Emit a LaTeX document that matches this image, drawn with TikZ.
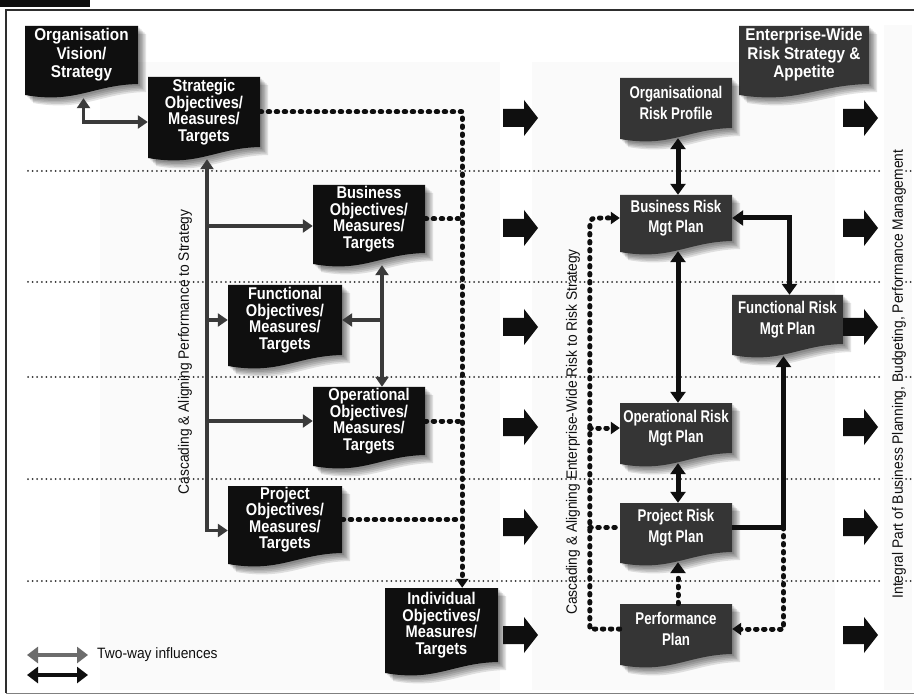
\documentclass[tikz,border=0pt]{standalone}
\usepackage{fontspec}
\setmainfont{Liberation Sans}[FakeStretch=0.92]
\newfontfamily\capfont{Liberation Sans}[FakeStretch=0.92]
\newfontfamily\headfont{Liberation Sans}[FakeStretch=0.9]
\newfontfamily\objfont{Liberation Sans}[FakeStretch=0.86]
\newfontfamily\riskfont{Liberation Sans}[FakeStretch=0.78]
\usetikzlibrary{arrows.meta,calc}

\definecolor{ink}{HTML}{0F0F0F}
\definecolor{riskbox}{HTML}{353535}
\definecolor{lconn}{HTML}{3A3A3A}
\definecolor{sepcol}{HTML}{2E2E2E}
\definecolor{panel}{HTML}{FAFAFA}

\pgfdeclarelayer{paper}
\pgfdeclarelayer{panels}
\pgfdeclarelayer{shapes}
\pgfsetlayers{paper,panels,shapes,main}

\tikzset{
  lt/.tip={Triangle[length=10pt,width=13pt]},
  rt/.tip={Triangle[length=11pt,width=15pt]},
  dt/.tip={Triangle[length=9pt,width=12pt]},
  gt/.tip={Triangle[length=11pt,width=16pt]},
  doctext/.style={text=white, align=center, inner sep=0pt},
  objtext/.style={font=\objfont\bfseries\fontsize{17}{16.5}\selectfont},
  headtext/.style={font=\headfont\bfseries\fontsize{17}{18.5}\selectfont},
  risktext/.style={font=\riskfont\bfseries\fontsize{17}{20.5}\selectfont},
  lconnector/.style={draw=lconn, line width=3.5pt},
  rconnector/.style={draw=ink, line width=5pt},
  dotconn/.style={draw=ink, line width=5pt, line cap=round, dash pattern=on 1.5pt off 6.5pt},
  separator/.style={draw=sepcol, line width=2pt, line cap=round, dash pattern=on 0pt off 4.6pt},
  sidetext/.style={rotate=90, inner sep=0pt, text=ink, font=\capfont\fontsize{15}{15}\selectfont},
  legendtext/.style={inner sep=0pt, anchor=west, text=ink, font=\capfont\fontsize{15}{15}\selectfont},
  legarrow/.style={line width=4pt, gt-gt},
  blockarrow/.pic={\fill[ink] (0,-9) -- (21,-9) -- (21,-18) -- (35,0) -- (21,18) -- (21,9) -- (0,9) -- cycle;}
}

% outline of a document-shaped box: left, top, right, bottom of right edge
\newcommand\docpath[4]{(#1,#2) -- (#3,#2) -- (#3,#4)
  .. controls ({#3-0.4*(#3-#1)},{#4+1}) and ({#1+0.45*(#3-#1)},{#4+20}) .. (#1,{#4+11}) -- cycle}

% document-shaped box: name, left, top, right, bottom of right edge, fill, text style, text
\newcommand\docbox[8]{%
  \node[doctext, #7, minimum width={(#4-#2)*1pt}, minimum height={(#5-#3)*1pt}]
    (#1) at ({(#2+#4)/2},{(#3+#5)/2}) {#8};
  \begin{pgfonlayer}{shapes}
    \foreach \s in {2,3.5,5,6.5,8} {
      \fill[black, opacity=0.11, shift={(\s,\s)}] \docpath{#2}{#3}{#4}{#5};
    }
    \fill[#6] \docpath{#2}{#3}{#4}{#5};
  \end{pgfonlayer}
}

\begin{document}
\begin{tikzpicture}[x=1pt,y=-1pt]
\useasboundingbox (0,0) rectangle (914,695);
\begin{pgfonlayer}{paper}
  \fill[white] (0,0) rectangle (914,695);
\end{pgfonlayer}

% frame and figure tag
\fill[ink] (0,0) rectangle (90,7);
\draw[sepcol, line width=2.5pt] (914,10) -- (6,10) -- (6,693);
\draw[gray, line width=1pt] (6,693) -- (914,693);

% light column panels and row separators
\begin{pgfonlayer}{panels}
  \fill[panel] (100,62) rectangle (500,690);
  \fill[panel] (532,62) rectangle (835,690);
  \fill[panel] (884,25) rectangle (912,690);
  \foreach \y in {171,282,377,479,581} {
    \draw[separator] (28,\y) -- (880,\y);
    \draw[separator] (906,\y) -- (914,\y);
  }
\end{pgfonlayer}

% objectives column
\docbox{org}{25}{26}{138}{84}{ink}{headtext}{Organisation\\Vision/\\Strategy}
\docbox{strat}{148}{77}{260}{147}{ink}{objtext}{Strategic\\Objectives/\\Measures/\\Targets}
\docbox{bus}{313}{185}{425}{253}{ink}{objtext}{Business\\Objectives/\\Measures/\\Targets}
\docbox{func}{228}{285}{342}{355}{ink}{objtext}{Functional\\Objectives/\\Measures/\\Targets}
\docbox{oper}{313}{387}{425}{455}{ink}{objtext}{Operational\\Objectives/\\Measures/\\Targets}
\docbox{proj}{228}{486}{342}{553}{ink}{objtext}{Project\\Objectives/\\Measures/\\Targets}
\docbox{indiv}{385}{588}{498}{662}{ink}{objtext}{Individual\\Objectives/\\Measures/\\Targets}

% risk column
\docbox{ews}{739}{26}{869}{84}{riskbox}{headtext}{Enterprise-Wide\\Risk Strategy \&\\Appetite}
\docbox{orp}{620}{78}{732}{128}{riskbox}{risktext}{Organisational\\Risk Profile}
\docbox{brm}{620}{195}{732}{241}{riskbox}{risktext}{Business Risk\\Mgt Plan}
\docbox{frm}{732}{295}{843}{344}{riskbox}{risktext}{Functional Risk\\Mgt Plan}
\docbox{orm}{620}{403}{732}{453}{riskbox}{risktext}{Operational Risk\\Mgt Plan}
\docbox{prm}{620}{503}{732}{552}{riskbox}{risktext}{Project Risk\\Mgt Plan}
\docbox{perf}{620}{604}{732}{654}{riskbox}{risktext}{Performance\\Plan}

% rotated column captions
\node[sidetext] (capA) at (185,352) {Cascading \& Aligning Performance to Strategy};
\node[sidetext] (capB) at (573,432) {Cascading \& Aligning Enterprise-Wide Risk to Risk Strategy};
\node[sidetext] (capC) at (899,374) {Integral Part of Business Planning, Budgeting, Performance Management};

% block arrows between the columns
\foreach \y in {118,228,327,427,527,635} {
  \pic at (503,\y) {blockarrow};
  \pic at (843,\y) {blockarrow};
}

% objectives: solid two-way links
\draw[lconnector, lt-lt] ($(org.south)+(2,14)$) |- ($(strat.west)+(0,10)$);
\coordinate (sp) at ($(strat.south)+(3,12)$);
\coordinate (projin) at ($(proj.west)+(0,11)$);
\coordinate (busin) at ($(bus.west)+(0,7)$);
\draw[lconnector, lt-lt] (sp) |- (projin);
\draw[lconnector, -lt] (sp |- busin) -- (busin);
\draw[lconnector, -lt] (sp |- func.west) -- (func.west);
\draw[lconnector, -lt] (sp |- oper.west) -- (oper.west);
\coordinate (bo) at ($(bus.south)+(13,0)$);
\draw[lconnector, lt-lt] ($(bo)+(0,12)$) -- (bo |- oper.north);
\draw[lconnector, -lt] (bo |- func.east) -- (func.east);

% objectives: dotted roll-up to individual level
\coordinate (dv) at ($(strat.east)+(202,0)$);
\draw[dotconn, -dt] (strat.east) -- (dv) -- (dv |- indiv.north);
\draw[dotconn] (bus.east) -- (bus.east -| dv);
\draw[dotconn] (oper.east) -- (oper.east -| dv);
\draw[dotconn] (proj.east) -- (proj.east -| dv);

% risk column links
\draw[rconnector, rt-rt] ($(orp.south)+(2,10)$) -- ($(brm.north)+(2,0)$);
\draw[rconnector, rt-rt] ($(brm.south)+(2,10)$) -- ($(orm.north)+(2,0)$);
\draw[rconnector, rt-rt] ($(orm.south)+(2,10)$) -- ($(prm.north)+(2,0)$);
\draw[dotconn, -rt] ($(perf.north)+(2,0)$) -- ($(prm.south)+(2,10)$);
\draw[rconnector, rt-rt] (brm.east) -| ($(frm.north)+(2,0)$);
\coordinate (pj) at ($(frm.south)+(-4,0)$);
\draw[rconnector, -rt] (prm.east) -| ($(pj)+(0,12)$);
\draw[dotconn, -dt] (pj |- prm.east) |- (perf.east);
\coordinate (rv) at ($(brm.west)+(-30,0)$);
\draw[dotconn, -dt] (perf.west) -- (perf.west -| rv) -- ($(rv)+(0,14)$)
  .. controls (rv) .. ($(rv)+(12,0)$) -- (brm.west);
\draw[dotconn, -dt] (rv |- orm.west) -- (orm.west);
\draw[dotconn] (rv |- prm.west) -- (prm.west);

% legend
\node[legendtext] (leg) at (97,655) {Two-way influences};
\coordinate (lgA) at (27,655);
\coordinate (lgB) at (27,675);
\draw[legarrow, draw=gray!85!black] (lgA) -- (lgA -| 88,0);
\draw[legarrow, draw=ink] (lgB) -- (lgB -| 88,0);
\end{tikzpicture}
\end{document}
